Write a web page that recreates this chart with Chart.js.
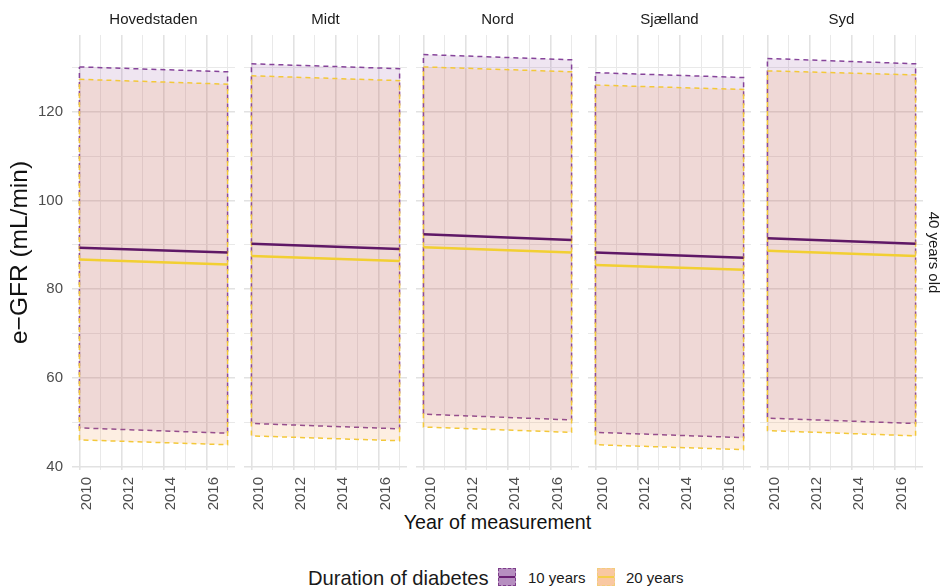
<!DOCTYPE html>
<html>
<head>
<meta charset="utf-8">
<script src="https://cdn.jsdelivr.net/npm/chart.js@4"></script>
<style>
html,body{margin:0;padding:0;background:#ffffff;}
body{width:946px;height:587px;position:relative;overflow:hidden;font-family:"Liberation Sans",Arial,sans-serif;}
canvas{position:absolute;top:0;}
.lg{position:absolute;top:568px;height:20px;line-height:20px;white-space:nowrap;color:#1a1a1a;}
.key{position:absolute;top:568px;width:18px;height:18px;box-sizing:border-box;}
.key i{position:absolute;left:0;right:0;top:7px;height:2px;}
.xt{position:absolute;left:297.5px;width:400px;top:510px;height:24px;line-height:24px;text-align:center;font-size:19.7px;color:#111;white-space:nowrap;}
</style>
</head>
<body>
<div class="xt">Year of measurement</div>
<div class="lg" style="left:308px;font-size:20.2px;">Duration of diabetes</div>
<div class="key" style="left:498px;background:#b68ec0;border:1.5px dashed #7d3d8a;"><i style="background:#6a1f73;"></i></div>
<div class="lg" style="left:528px;font-size:15px;">10 years</div>
<div class="key" style="left:597px;background:#f9c8a2;border:1.5px dashed #f3cd7a;"><i style="background:#f4cf4a;"></i></div>
<div class="lg" style="left:626px;font-size:15px;">20 years</div>
<script>
// ---- data ----
const regions = ['Hovedstaden', 'Midt', 'Nord', 'Sjælland', 'Syd'];
const years = [2010, 2017];
// mean e-GFR, [2010, 2017]
const line10 = [[89.4, 88.3], [90.3, 89.1], [92.4, 91.1], [88.3, 87.1], [91.5, 90.3]];
const line20 = [[86.7, 85.6], [87.5, 86.4], [89.5, 88.3], [85.5, 84.4], [88.7, 87.5]];
// ribbon bounds, [2010, 2017]
const upper10 = [[130.2, 129.1], [130.9, 129.8], [133.0, 131.8], [128.9, 127.8], [132.1, 130.9]];
const lower10 = [[48.7, 47.5], [49.7, 48.5], [51.8, 50.5], [47.7, 46.5], [50.9, 49.7]];
const upper20 = [[127.4, 126.3], [128.2, 127.1], [130.2, 129.1], [126.1, 125.1], [129.3, 128.4]];
const lower20 = [[46.0, 44.9], [46.9, 45.8], [48.9, 47.7], [44.9, 43.8], [48.1, 46.9]];
const xTicks = [2010, 2011, 2012, 2013, 2014, 2015, 2016, 2017];
const xLabelled = [2010, 2012, 2014, 2016];
const yTicks = [40, 50, 60, 70, 80, 90, 100, 110, 120, 130];
const yLabelled = [40, 60, 80, 100, 120];

// ---- styling / layout ----
Chart.defaults.font.family = "'Liberation Sans', Arial, sans-serif";
const P_LINE = '#5f1866', Y_LINE = '#f2cf32';
const P_DASH = '#86449a', Y_DASH = '#f3c83a';
const P_FILL = 'rgba(150,80,160,0.15)', O_FILL = 'rgba(240,140,60,0.15)';
const GRID_MAJ = '#e2e2e2', GRID_MIN = '#e9e9e9';
const TICK_COL = '#4d4d4d';
const panelLeft = [72, 244, 416, 588, 760];
const panelW = 163;
const canvasH = 545, plotBottom = 470;

function ribbon(up, lo) {
  return [
    {x: years[0], y: up[0]}, {x: years[1], y: up[1]},
    {x: years[1], y: lo[1]}, {x: years[0], y: lo[0]},
    {x: years[0], y: up[0]}
  ];
}
function line(v) { return [{x: years[0], y: v[0]}, {x: years[1], y: v[1]}]; }

regions.forEach((name, i) => {
  const first = i === 0, last = i === regions.length - 1;
  const padL = first ? 0 : 30, padR = last ? 0 : 30;
  const yW = first ? 72 : 0;
  const y2W = last ? 23 : 0;
  const left = first ? 0 : panelLeft[i] - padL;
  const width = padL + yW + panelW + y2W + padR;
  const cv = document.createElement('canvas');
  cv.width = width; cv.height = canvasH;
  cv.style.left = left + 'px';
  cv.style.width = width + 'px'; cv.style.height = canvasH + 'px';
  document.body.appendChild(cv);

  const scales = {
    x: {
      type: 'linear', min: 2009.65, max: 2017.35,
      afterBuildTicks: s => { s.ticks = xTicks.map(v => ({value: v})); },
      afterFit: s => { s.height = canvasH - plotBottom; },
      border: {display: false},
      grid: {
        drawTicks: false,
        color: c => (c.tick && xLabelled.includes(c.tick.value)) ? GRID_MAJ : GRID_MIN,
        lineWidth: c => (c.tick && xLabelled.includes(c.tick.value)) ? 1.6 : 1
      },
      ticks: {
        autoSkip: false, minRotation: 90, maxRotation: 90, padding: 7, labelOffset: 7,
        color: TICK_COL, font: {size: 15},
        callback: v => xLabelled.includes(v) ? String(v) : ''
      }
    },
    y: {
      type: 'linear', min: 39.2, max: 137.4,
      afterBuildTicks: s => { s.ticks = yTicks.map(v => ({value: v})); },
      afterFit: s => { s.width = yW; },
      border: {display: false},
      grid: {
        drawTicks: false,
        color: c => (c.tick && yLabelled.includes(c.tick.value)) ? GRID_MAJ : GRID_MIN,
        lineWidth: c => (c.tick && yLabelled.includes(c.tick.value)) ? 1.6 : 1
      },
      ticks: {
        display: first, autoSkip: false, padding: 9, color: TICK_COL, font: {size: 15},
        callback: v => yLabelled.includes(v) ? String(v) : ''
      },
      title: {
        display: first, text: 'e\u2212GFR (mL/min)', color: '#111',
        font: {size: 24.5}, padding: {top: 5.3, bottom: 0}
      }
    }
  };
  if (last) {
    scales.y2 = {
      type: 'linear', position: 'right', min: 0, max: 1,
      afterFit: s => { s.width = y2W; },
      border: {display: false}, grid: {display: false},
      ticks: {display: false},
      title: {display: true, text: '40 years old', color: '#1a1a1a', font: {size: 15}, padding: {top: 3.5, bottom: 0}}
    };
  }

  new Chart(cv, {
    type: 'line',
    data: {
      datasets: [
        {data: line(line10[i]), borderColor: P_LINE, borderWidth: 2.5, pointRadius: 0, fill: false, order: 0},
        {data: line(line20[i]), borderColor: Y_LINE, borderWidth: 2.5, pointRadius: 0, fill: false, order: 1},
        {data: ribbon(upper20[i], lower20[i]), borderColor: Y_DASH, borderWidth: 1.5, borderDash: [5, 4],
         backgroundColor: O_FILL, fill: 'shape', pointRadius: 0, order: 2},
        {data: ribbon(upper10[i], lower10[i]), borderColor: P_DASH, borderWidth: 1.5, borderDash: [5, 4],
         backgroundColor: P_FILL, fill: 'shape', pointRadius: 0, order: 3}
      ]
    },
    options: {
      responsive: false, animation: false, events: [],
      layout: {padding: {left: padL, right: padR, top: 0, bottom: 0}},
      plugins: {
        legend: {display: false}, tooltip: {enabled: false},
        title: {
          display: true, text: name, fullSize: false, color: '#1a1a1a',
          font: {size: 15, weight: 'normal'}, padding: {top: 10.5, bottom: 6.5}
        }
      },
      scales: scales
    }
  });
});
</script>
</body>
</html>
